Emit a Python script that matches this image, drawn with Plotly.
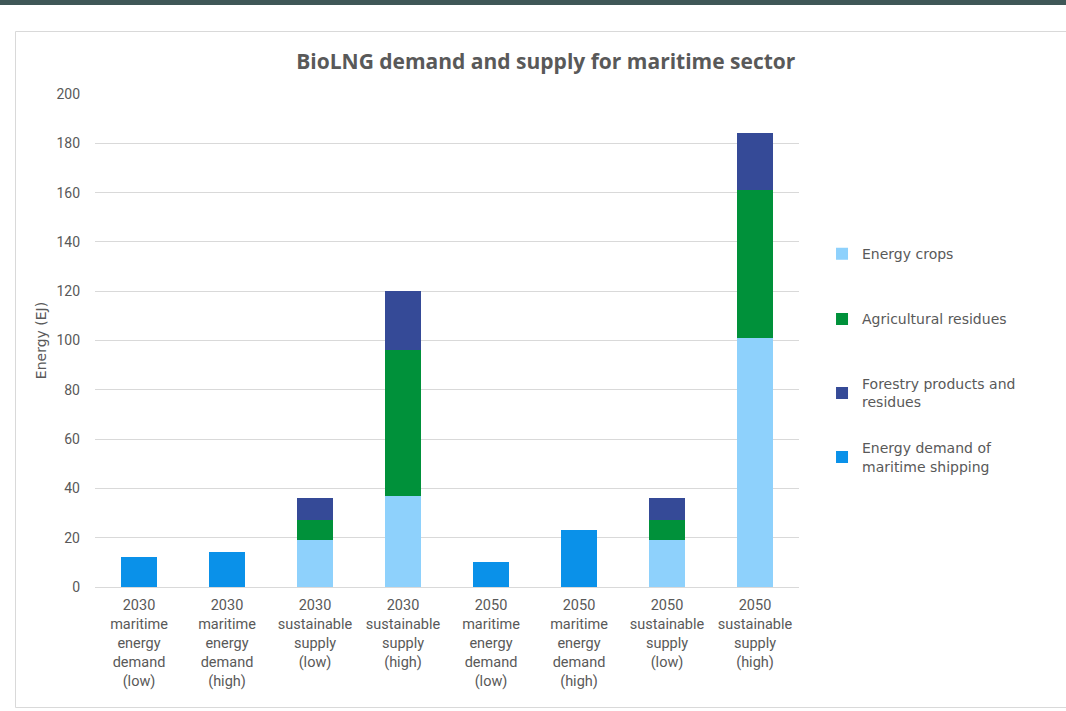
import plotly.graph_objects as go

categories = [
    "2030<br>maritime<br>energy<br>demand<br>(low)",
    "2030<br>maritime<br>energy<br>demand<br>(high)",
    "2030<br>sustainable<br>supply<br>(low)",
    "2030<br>sustainable<br>supply<br>(high)",
    "2050<br>maritime<br>energy<br>demand<br>(low)",
    "2050<br>maritime<br>energy<br>demand<br>(high)",
    "2050<br>sustainable<br>supply<br>(low)",
    "2050<br>sustainable<br>supply<br>(high)",
]
energy_crops = [None, None, 19, 37, None, None, 19, 101]
agri_residues = [None, None, 8, 59, None, None, 8, 60]
forestry = [None, None, 9, 24, None, None, 9, 23]
demand = [12, 14, None, None, 10, 23, None, None]

grey = "#595959"
narrow = "Roboto, sans-serif"
wide = "DejaVu Sans, Verdana, sans-serif"
title_font = "Open Sans, DejaVu Sans, sans-serif"

fig = go.Figure()
series = [
    ("Energy crops", energy_crops, "#8ed1fc", "legend"),
    ("Agricultural residues", agri_residues, "#00913a", "legend2"),
    ("Forestry products and<br>residues", forestry, "#354a97", "legend3"),
    ("Energy demand of<br>maritime shipping", demand, "#0a91e9", "legend4"),
]
for name, vals, col, lg in series:
    fig.add_trace(go.Bar(x=list(range(len(categories))), y=vals, name=name,
                         marker=dict(color=col, line=dict(width=0)),
                         legend=lg, showlegend=True))

legend_common = dict(font=dict(family=wide, size=14, color=grey),
                     bgcolor="rgba(0,0,0,0)", xanchor="left", yanchor="middle",
                     x=1.0327, itemwidth=30)
fig.update_layout(
    barmode="stack",
    bargap=0.6,
    showlegend=True,
    width=1066, height=711,
    margin=dict(l=95, r=267, t=94, b=124),
    paper_bgcolor="white", plot_bgcolor="white",
    font=dict(family=narrow, color=grey),
    title=dict(text="<b>BioLNG demand and supply for maritime sector</b>",
               x=0.512, xanchor="center", y=0.913, yanchor="middle",
               font=dict(size=21, color=grey, family=title_font)),
    xaxis=dict(tickmode="array", tickvals=list(range(len(categories))),
               ticktext=categories, range=[-0.5, 7.5],
               tickfont=dict(size=14.5, color=grey), showgrid=False,
               showline=True, linecolor="#d9d9d9", linewidth=1, ticks="",
               ticklabelstandoff=5),
    yaxis=dict(range=[0, 200], dtick=20, tickfont=dict(size=14, color=grey),
               gridcolor="#d9d9d9", gridwidth=1, zeroline=False,
               ticks="", ticklabelstandoff=14,
               title=dict(text="Energy (EJ)", font=dict(size=14, color=grey, family=wide),
                          standoff=6)),
    legend=dict(**legend_common, y=0.675),
    legend2=dict(**legend_common, y=0.543),
    legend3=dict(**legend_common, y=0.393),
    legend4=dict(**legend_common, y=0.263),
)
# frame decoration (page header bar and chart border) in paper coordinates
pw, ph = 1066 - 95 - 267, 711 - 94 - 124
def px_x(x):
    return (x - 95) / pw
def px_y(y):
    return (587 - y) / ph
fig.add_shape(type="rect", xref="paper", yref="paper",
              x0=px_x(-5), x1=px_x(1075), y0=px_y(5), y1=px_y(-5),
              fillcolor="#3f5757", line=dict(width=0), layer="above")
fig.add_shape(type="rect", xref="paper", yref="paper",
              x0=px_x(15.5), x1=px_x(1075), y0=px_y(707.5), y1=px_y(31.5),
              fillcolor="rgba(0,0,0,0)", line=dict(width=1, color="#d9d9d9"), layer="below")
fig.write_html("out.html")
